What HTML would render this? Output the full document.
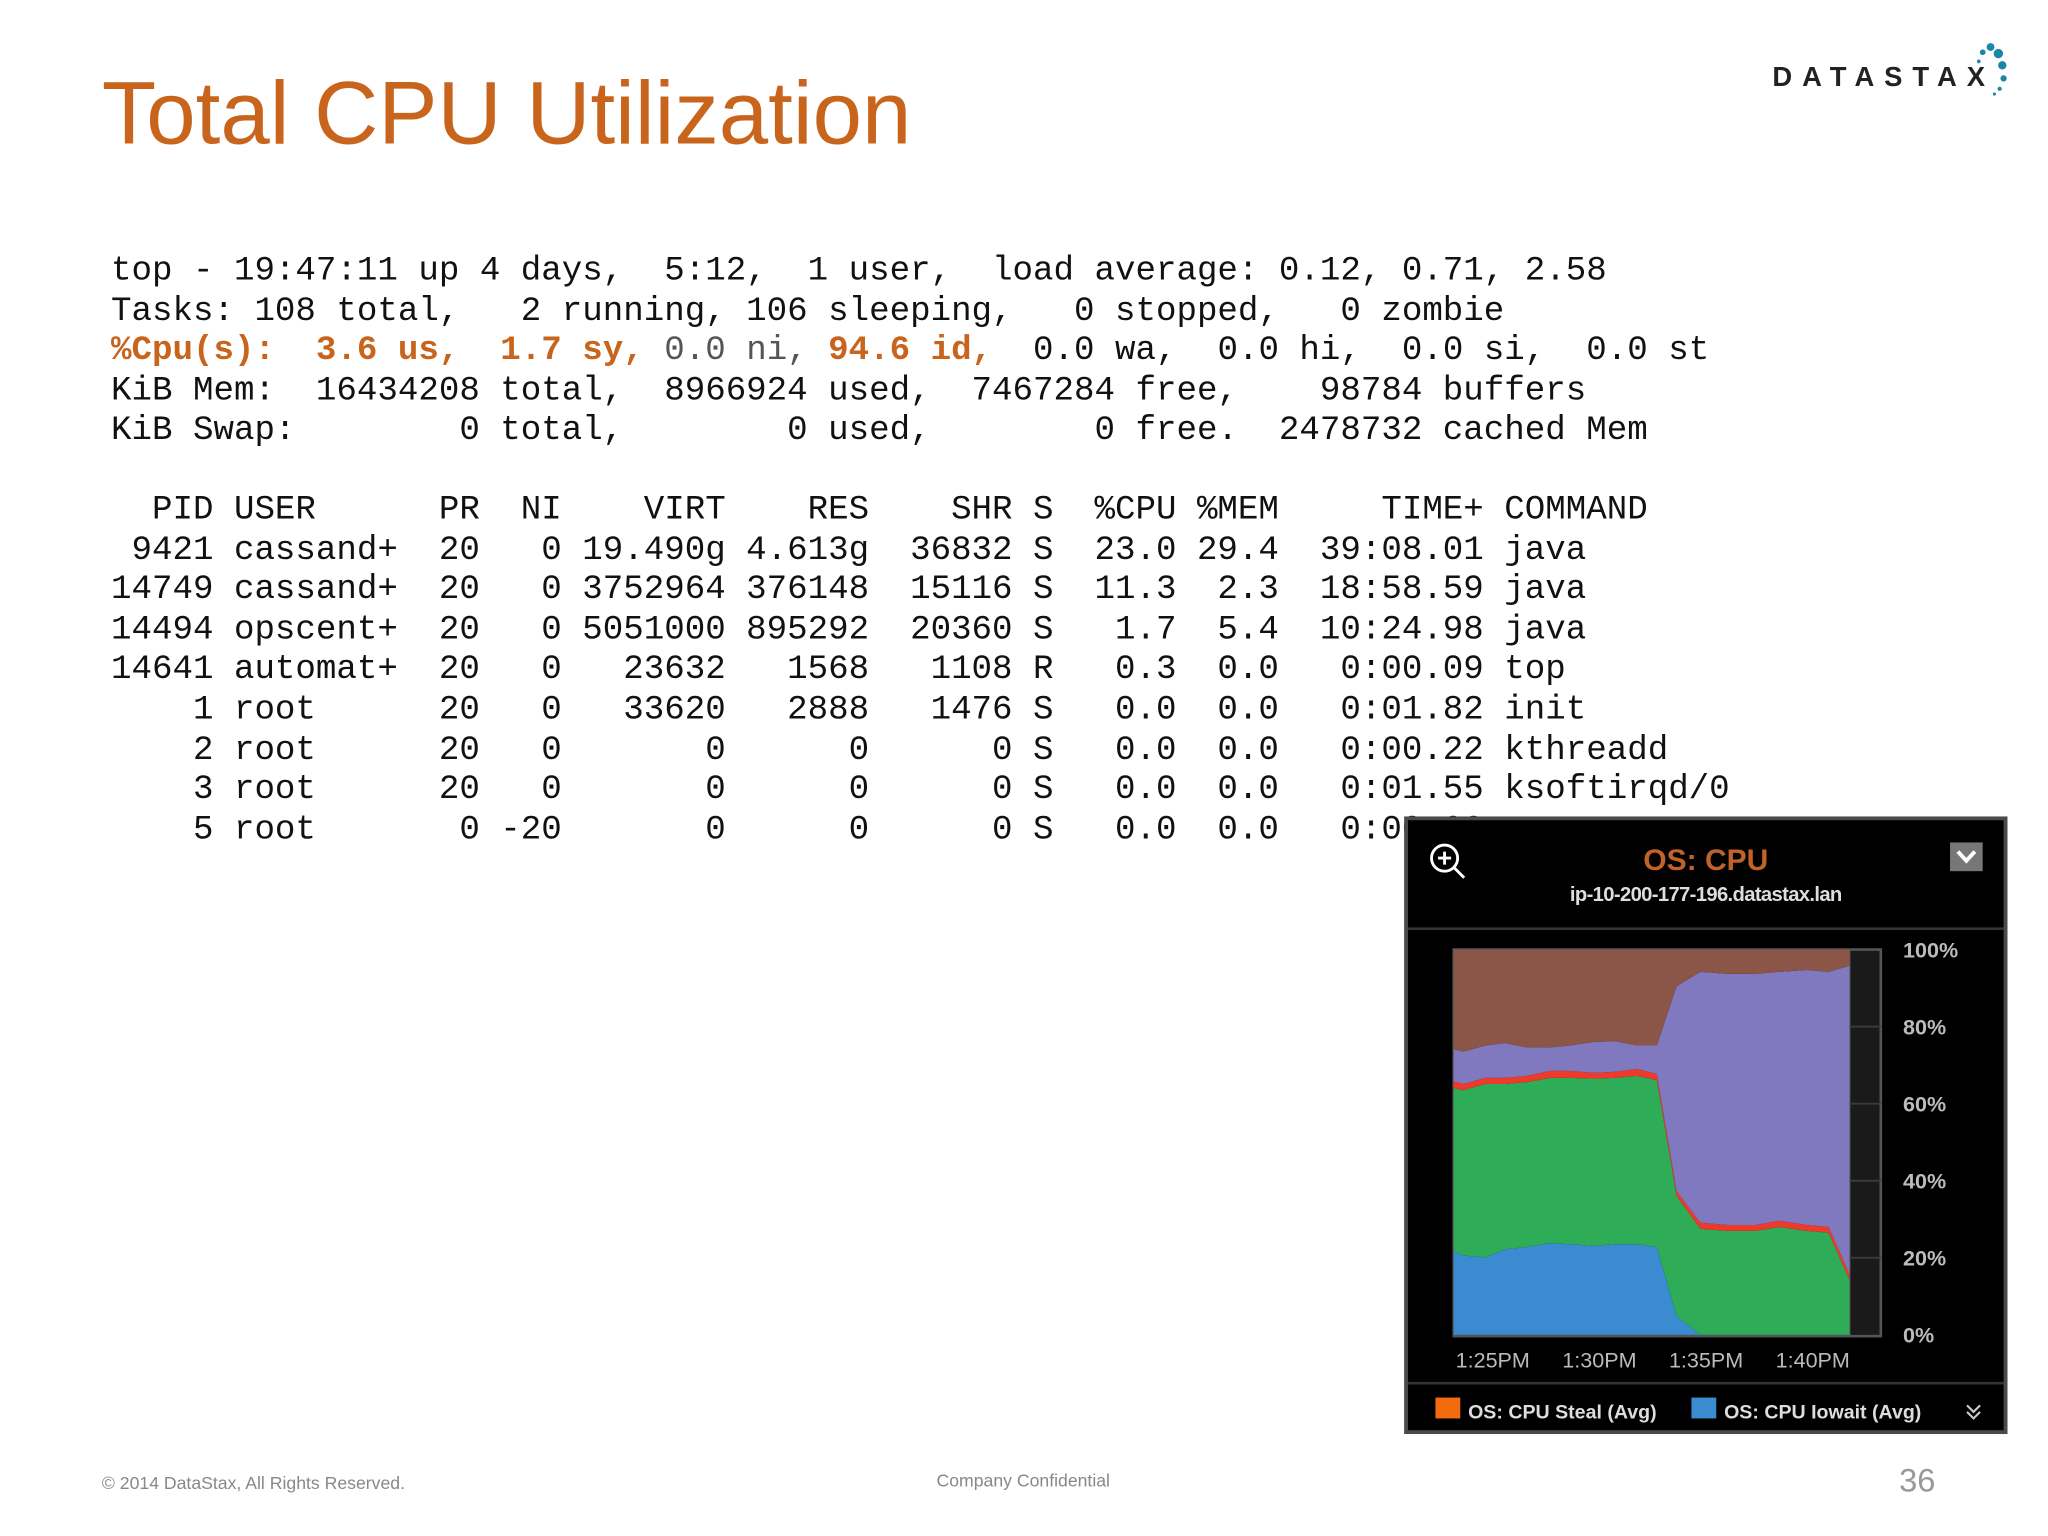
<!DOCTYPE html>
<html><head><meta charset="utf-8"><style>
html,body{margin:0;padding:0;background:#fff;overflow:hidden}
#page{position:absolute;left:0;top:0;width:1568px;height:1176px;transform:scale(1.306122);transform-origin:0 0;background:#fff;font-family:"Liberation Sans",sans-serif}
#title{position:absolute;left:78px;top:48px;font-size:68px;color:#c8641c;white-space:nowrap;letter-spacing:0px}
#term{position:absolute;left:85px;top:192px;margin:0;font-family:"Liberation Mono",monospace;font-size:26.15px;line-height:30.55px;color:#111;white-space:pre}
.o{color:#c8641c;font-weight:bold}.g{color:#555}
.foot{position:absolute;color:#888;white-space:nowrap}
</style></head><body>
<div id="page">
<div id="title">Total CPU Utilization</div>
<svg style="position:absolute;left:1350px;top:28px" width="190" height="46" viewBox="0 0 190 46">
<text x="7" y="38" font-family="Liberation Sans,sans-serif" font-weight="bold" font-size="21" letter-spacing="7.6" fill="#222">DATASTAX</text>
<g fill="#1b86a6"><circle cx="168" cy="12" r="2.2"/><circle cx="174" cy="8" r="3"/><circle cx="180" cy="13" r="3.6"/><circle cx="183" cy="22" r="3.2"/><circle cx="184" cy="32" r="2.4"/><circle cx="181" cy="40" r="1.6"/><circle cx="165" cy="19" r="1.4"/><circle cx="177" cy="44" r="1.2"/></g>
</svg>
<pre id="term">top - 19:47:11 up 4 days,  5:12,  1 user,  load average: 0.12, 0.71, 2.58
Tasks: 108 total,   2 running, 106 sleeping,   0 stopped,   0 zombie
<span class="o">%Cpu(s):  3.6 us,  1.7 sy,</span> <span class="g">0.0 ni,</span> <span class="o">94.6 id,</span>  0.0 wa,  0.0 hi,  0.0 si,  0.0 st
KiB Mem:  16434208 total,  8966924 used,  7467284 free,    98784 buffers
KiB Swap:        0 total,        0 used,        0 free.  2478732 cached Mem

  PID USER      PR  NI    VIRT    RES    SHR S  %CPU %MEM     TIME+ COMMAND
 9421 cassand+  20   0 19.490g 4.613g  36832 S  23.0 29.4  39:08.01 java
14749 cassand+  20   0 3752964 376148  15116 S  11.3  2.3  18:58.59 java
14494 opscent+  20   0 5051000 895292  20360 S   1.7  5.4  10:24.98 java
14641 automat+  20   0   23632   1568   1108 R   0.3  0.0   0:00.09 top
    1 root      20   0   33620   2888   1476 S   0.0  0.0   0:01.82 init
    2 root      20   0       0      0      0 S   0.0  0.0   0:00.22 kthreadd
    3 root      20   0       0      0      0 S   0.0  0.0   0:01.55 ksoftirqd/0
    5 root       0 -20       0      0      0 S   0.0  0.0   0:00.00 </pre>
<svg id="panel" style="position:absolute;left:1075px;top:625px" width="462" height="473" viewBox="1075 625 462 473">
<rect x="1076.5" y="626.5" width="459" height="470" fill="#000" stroke="#4a4a4a" stroke-width="3"/>
<g stroke="#fff" stroke-width="2.2" fill="none"><circle cx="1106" cy="657" r="10"/><line x1="1113" y1="664" x2="1121" y2="672"/><line x1="1101" y1="657" x2="1111" y2="657"/><line x1="1106" y1="652" x2="1106" y2="662"/></g>
<text x="1306" y="666" text-anchor="middle" font-family="Liberation Sans,sans-serif" font-weight="bold" font-size="23" fill="#c0622a">OS: CPU</text>
<text x="1306" y="690" text-anchor="middle" font-family="Liberation Sans,sans-serif" font-weight="bold" font-size="15.5" letter-spacing="-0.5" fill="#ddd">ip-10-200-177-196.datastax.lan</text>
<g><rect x="1493" y="645" width="25" height="22" fill="#777"/><polyline points="1499,652 1505.5,659 1512,652" stroke="#fff" stroke-width="3" fill="none"/></g>
<line x1="1078" y1="711" x2="1534" y2="711" stroke="#333" stroke-width="2"/>
<rect x="1416" y="727" width="24" height="296" fill="#1a1a1a" stroke="#555" stroke-width="1.5"/>
<rect x="1113" y="727" width="327" height="296" fill="none" stroke="#555" stroke-width="2"/>
<g id="grid"></g><g id="areas"></g><g id="yt"></g><g id="xt"></g>
<line x1="1078" y1="1059" x2="1534" y2="1059" stroke="#333" stroke-width="2"/>
<g><rect x="1099" y="1070" width="19" height="16" fill="#f26b0f"/><text x="1124" y="1086" font-family="Liberation Sans,sans-serif" font-weight="bold" font-size="15" letter-spacing="0" fill="#ddd">OS: CPU Steal (Avg)</text></g>
<g><rect x="1295" y="1070" width="19" height="16" fill="#3a8bd0"/><text x="1320" y="1086" font-family="Liberation Sans,sans-serif" font-weight="bold" font-size="15" letter-spacing="0" fill="#ddd">OS: CPU Iowait (Avg)</text></g>
<g stroke="#ccc" stroke-width="1.6" fill="none"><polyline points="1506,1076 1511,1081 1516,1076"/><polyline points="1506,1081 1511,1086 1516,1081"/></g>
</svg>
<div class="foot" style="left:78px;top:1128px;font-size:13.5px">© 2014 DataStax, All Rights Reserved.</div>
<div class="foot" style="left:717px;top:1126px;font-size:13.5px">Company Confidential</div>
<div class="foot" style="left:1454px;top:1120px;font-size:25px;color:#999">36</div>
</div>
<script>
const times=[23.17,23.63,24.65,25.57,26.59,27.70,28.62,29.73,30.75,31.77,32.69,33.62,34.73,36.02,37.32,38.43,39.72,40.74,41.72];
const iowait=[21.7,20.6,20.1,22.2,22.8,23.8,23.5,23.1,23.5,23.5,22.8,4.8,0,0,0,0,0,0,0];
const user=[42.3,42.9,45.0,42.9,42.8,42.9,43.2,43.4,43.2,43.7,43.3,31.2,27.5,27.0,27.0,28.0,27.0,26.5,14.3];
const steal=[1.8,1.6,1.6,1.6,1.6,1.8,1.8,1.5,1.6,1.8,1.6,1.3,1.6,1.5,1.5,1.6,1.5,1.5,1.5];
const system=[8.3,8.4,8.4,9.0,7.4,6.1,6.6,8.0,7.9,6.1,7.4,53.2,65.1,65.2,65.2,64.6,66.2,66.2,80.0];
const yTicks=[0,20,40,60,80,100];
const xTicks=[25,30,35,40];
const xTickLabels=["1:25PM","1:30PM","1:35PM","1:40PM"];
const NS="http://www.w3.org/2000/svg";
const x=t=>1113+(t-times[0])/(times[times.length-1]-times[0])*303;
const y=v=>1022-v/100*295;
function mk(tag,attrs,parent){const e=document.createElementNS(NS,tag);for(const k in attrs)e.setAttribute(k,attrs[k]);parent.appendChild(e);return e;}
const idle=times.map((_,i)=>Math.max(0,100-iowait[i]-user[i]-steal[i]-system[i]));
const layers=[["iowait",iowait,"#3a8bd0"],["user",user,"#2eac57"],["steal",steal,"#ee3a2b"],["system",system,"#8079bf"],["idle",idle,"#8b5548"]];
const areas=document.getElementById('areas');
let base=times.map(()=>0);
layers.forEach(([nm,vals,col])=>{
  const top=base.map((b,i)=>b+vals[i]);
  let d="M"+times.map((t,i)=>x(t)+","+y(top[i])).join("L");
  for(let i=times.length-1;i>=0;i--)d+="L"+x(times[i])+","+y(base[i]);
  const p=mk('path',{d:d+"Z",fill:col},areas);
  
  
  base=top;
});
const grid=document.getElementById('grid'),yt=document.getElementById('yt'),xt=document.getElementById('xt');
yTicks.forEach(v=>{
  if(v>0&&v<100){const l=mk('line',{x1:1416,x2:1440,y1:y(v),y2:y(v),stroke:"#3a3a3a","stroke-width":1.5},grid);
  
  }
  const t=mk('text',{x:1457,y:y(v)+6,"font-family":"Liberation Sans,sans-serif","font-weight":"bold","font-size":16.5,fill:"#bbb"},yt);
  t.textContent=v+"%";
  
  
});
xTicks.forEach((v,i)=>{
  const t=mk('text',{x:x(v),y:1047,"text-anchor":"middle","font-family":"Liberation Sans,sans-serif","font-size":16.5,fill:"#bbb"},xt);
  t.textContent=xTickLabels[i];
  
  
});
</script>
</body></html>
